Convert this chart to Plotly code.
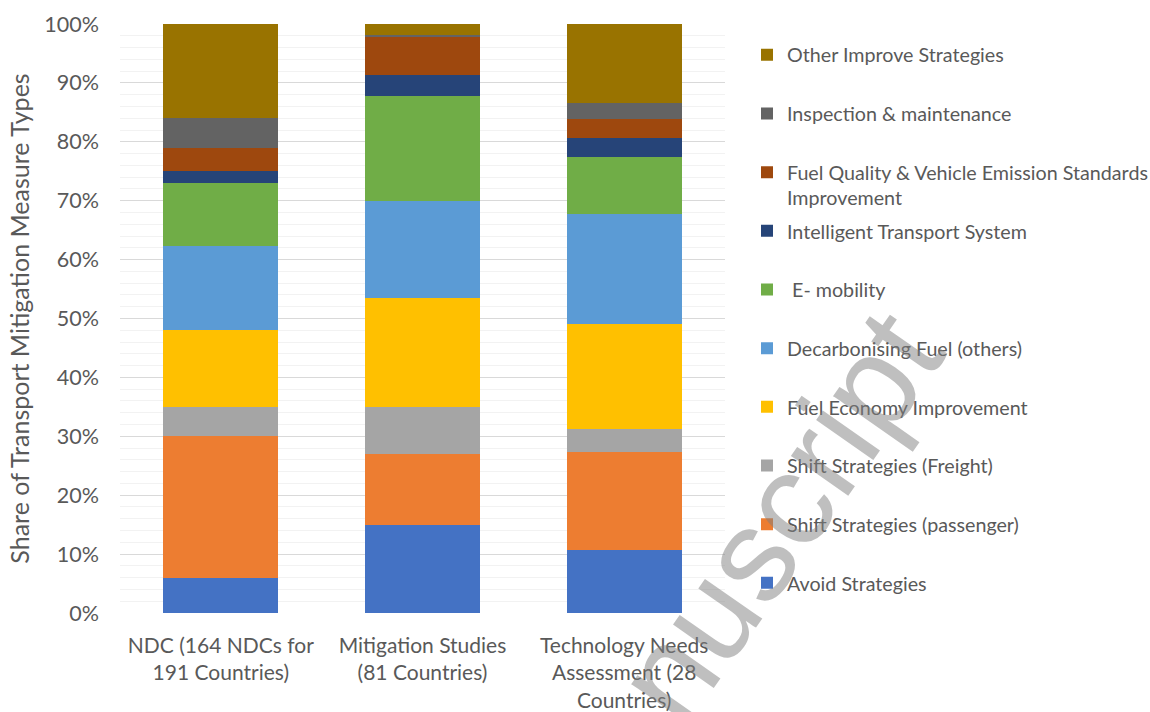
import plotly.graph_objects as go

# Sources of transport mitigation measures (x categories)
categories = [
    "NDC (164 NDCs for<br>191 Countries)",
    "Mitigation Studies<br>(81 Countries)",
    "Technology Needs<br>Assessment (28<br>Countries)",
]

# Share of each measure type (%), stacked bottom to top
avoid = [6.0, 15.0, 10.7]
shift_passenger = [24.0, 12.0, 16.7]
shift_freight = [5.0, 8.0, 3.8]
fuel_economy = [13.0, 18.5, 17.8]
decarbonising_fuel = [14.3, 16.5, 18.8]
e_mobility = [10.7, 17.7, 9.7]
its = [2.0, 3.7, 3.2]
fuel_quality = [4.0, 6.4, 3.2]
inspection = [5.0, 0.4, 2.7]
other = [16.0, 1.8, 13.4]

series = [
    ("Avoid Strategies", avoid, "#4472C4"),
    ("Shift Strategies (passenger)", shift_passenger, "#ED7D31"),
    ("Shift Strategies (Freight)", shift_freight, "#A5A5A5"),
    ("Fuel Economy Improvement", fuel_economy, "#FFC000"),
    ("Decarbonising Fuel (others)", decarbonising_fuel, "#5B9BD5"),
    (" E- mobility", e_mobility, "#70AD47"),
    ("Intelligent Transport System", its, "#264478"),
    ("Fuel Quality & Vehicle Emission Standards<br>Improvement", fuel_quality, "#9E480E"),
    ("Inspection & maintenance", inspection, "#636363"),
    ("Other Improve Strategies", other, "#997300"),
]

FONT = "Lato, 'Open Sans', sans-serif"
TEXT = "#595959"

W, H = 1150, 712
ML, MR, MT, MB = 120, 425, 24, 99
plot_w = W - ML - MR
plot_h = H - MT - MB

fig = go.Figure()
legend_layouts = {}
n = len(series)
for i, (name, vals, color) in enumerate(series):
    key = "legend" if i == 0 else f"legend{i + 1}"
    fig.add_trace(go.Bar(
        x=categories, y=vals, name=name, legend=key, showlegend=True,
        marker=dict(color=color, line=dict(width=0)),
    ))
    # legend rows run top (last series) to bottom (first series)
    slot = n - 1 - i
    y_px = 55 + 58.67 * slot
    legend_layouts[key] = dict(
        x=(747 - ML) / plot_w, xanchor="left",
        y=(MT + plot_h - y_px + 19.5) / plot_h, yanchor="top",
        valign="top",
        font=dict(family=FONT, size=19.7, color=TEXT),
        bgcolor="rgba(0,0,0,0)",
        visible=True,
    )

fig.update_layout(
    width=W, height=H,
    barmode="stack", bargap=0.43,
    showlegend=True,
    plot_bgcolor="white", paper_bgcolor="white",
    margin=dict(l=ML, r=MR, t=MT, b=MB, autoexpand=False),
    font=dict(family=FONT, color=TEXT),
    **legend_layouts,
)

fig.update_yaxes(
    range=[0, 100], dtick=10, ticksuffix="%",
    showgrid=True, gridcolor="#D9D9D9", gridwidth=1,
    minor=dict(dtick=2, showgrid=True, gridcolor="#F2F2F2", gridwidth=1),
    zeroline=False, showline=False,
    tickfont=dict(family=FONT, size=21.5, color=TEXT),
    ticklabelstandoff=20,
    title=dict(text="Share of Transport Mitigation Measure Types",
               font=dict(family=FONT, size=25, color=TEXT), standoff=7),
    automargin=False,
)
fig.update_xaxes(
    showline=False, showgrid=False,
    tickfont=dict(family=FONT, size=21, color=TEXT),
    ticklabelstandoff=18,
    automargin=False,
)

# "Manuscript" watermark
fig.add_annotation(
    text="nuscript", xref="paper", yref="paper",
    x=(778 - ML) / plot_w, y=(MT + plot_h - 516) / plot_h,
    xanchor="center", yanchor="middle",
    showarrow=False, textangle=-55,
    font=dict(family="Liberation Sans, Arial, sans-serif", size=132,
              color="rgba(128,128,128,0.5)"),
)

fig.write_html("out.html")
